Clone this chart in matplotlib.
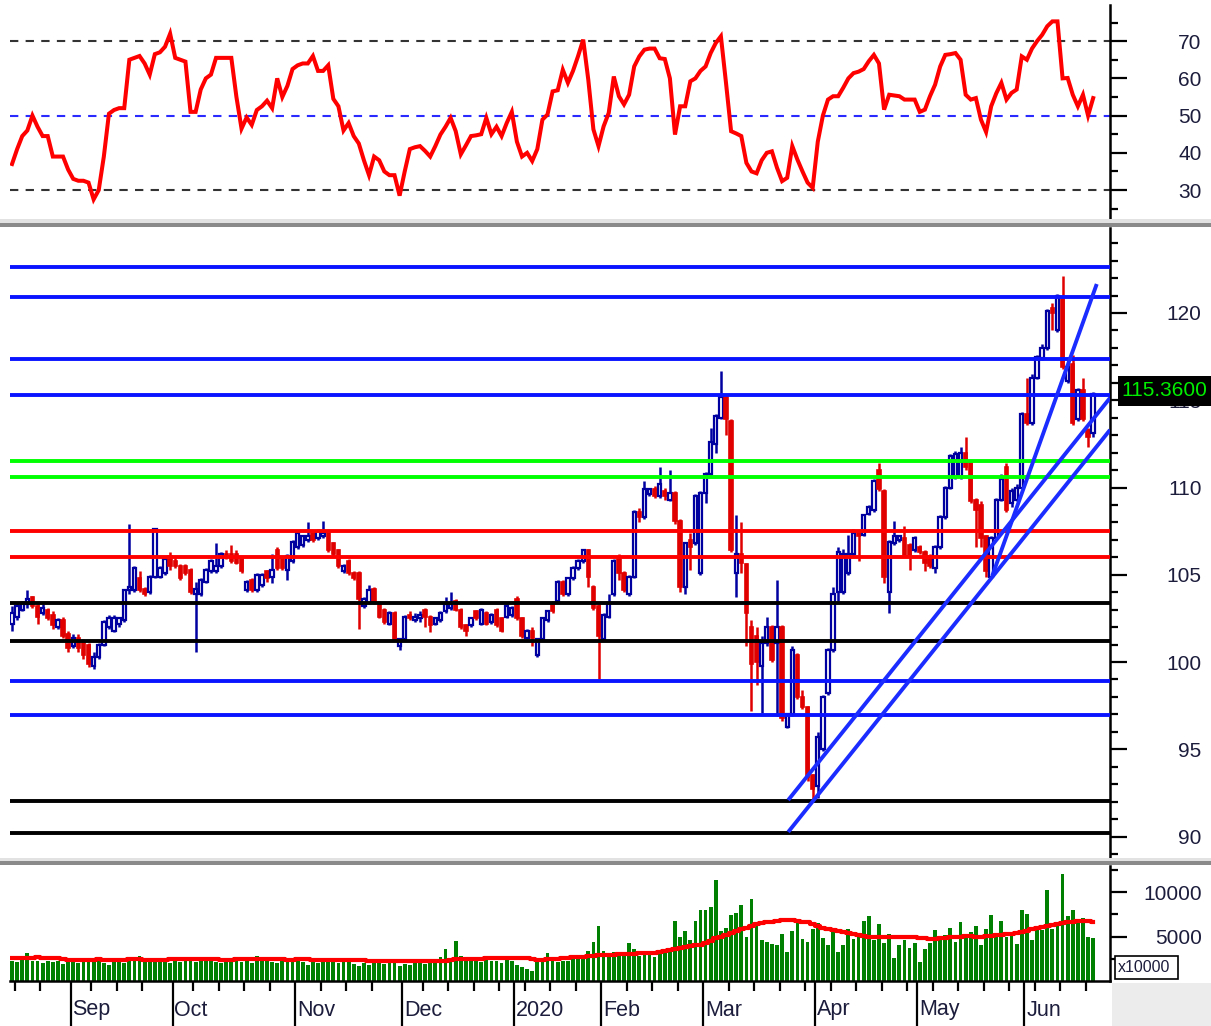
import matplotlib
matplotlib.use("Agg")
import matplotlib.pyplot as plt
import matplotlib.transforms as mtransforms
from matplotlib.patches import Rectangle
import numpy as np

# ---------------- data ----------------
opens = [102.2, 102.6, 103.0, 103.3, 103.7, 103.2, 102.8, 103.0, 102.7, 102.0,
         102.4, 101.6, 100.9, 101.4, 101.2, 101.0, 99.8, 100.3, 101.0, 102.0,
         101.8, 102.2, 102.4, 104.1, 104.1, 104.8, 104.2, 104.0, 104.9, 104.9,
         105.1, 106.1, 105.8, 105.5, 105.5, 105.3, 103.9, 103.9, 104.6, 105.2,
         105.2, 105.5, 106.2, 106.2, 106.2, 105.9, 104.1, 104.7, 104.1, 104.4,
         105.2, 104.9, 106.4, 105.9, 105.3, 105.8, 106.6, 106.7, 107.0, 107.4,
         107.1, 107.2, 107.5, 106.8, 106.4, 105.2, 105.8, 105.1, 105.1, 103.2,
         103.4, 104.2, 103.4, 103.0, 102.2, 102.8, 100.9, 101.3, 102.7, 102.4,
         102.5, 103.0, 102.6, 102.2, 102.4, 102.9, 103.1, 103.5, 103.0, 102.1,
         102.1, 102.9, 102.2, 102.8, 102.3, 103.0, 102.5, 102.6, 102.7, 103.6,
         102.5, 101.4, 101.8, 100.4, 101.3, 102.4, 103.3, 103.5, 104.6, 103.9,
         104.8, 105.4, 105.8, 106.4, 104.3, 103.2, 101.3, 102.6, 103.9, 105.9,
         105.1, 103.9, 104.9, 108.6, 108.3, 109.6, 109.9, 109.5, 109.8, 109.3,
         109.7, 108.1, 104.3, 107.0, 106.8, 105.1, 109.7, 110.8, 112.5, 114.0,
         115.2, 113.8, 105.1, 106.2, 105.6, 102.0, 101.5, 99.8, 101.1, 102.0,
         101.1, 102.0, 96.3, 97.0, 100.4, 98.0, 97.4, 93.5, 92.9, 95.0,
         98.2, 100.7, 104.0, 104.0, 105.1, 106.2, 107.4, 107.3, 108.5, 108.7,
         111.0, 109.8, 104.0, 106.8, 107.0, 107.1, 106.7, 106.4, 106.6, 106.3,
         106.1, 105.4, 106.6, 108.3, 110.0, 110.6, 110.6, 112.0, 111.4, 109.3,
         109.0, 107.2, 104.9, 107.1, 109.3, 111.2, 109.1, 109.3, 110.0, 114.2,
         113.7, 116.3, 117.4, 118.0, 120.3, 119.0, 120.8, 116.1, 117.1, 113.9,
         115.6, 113.3, 113.1]
closes = [102.8, 103.2, 103.4, 103.6, 103.2, 102.6, 103.1, 102.5, 102.1, 102.4,
          101.5, 100.8, 101.4, 100.8, 100.4, 99.9, 100.3, 101.0, 102.3, 102.5,
          102.5, 102.5, 104.1, 104.3, 105.4, 104.1, 103.9, 104.9, 107.6, 105.4,
          105.9, 105.5, 105.5, 104.8, 105.1, 104.0, 104.2, 104.7, 105.3, 105.8,
          105.5, 106.2, 106.0, 105.8, 105.7, 105.2, 104.6, 104.1, 105.0, 105.0,
          104.8, 105.3, 105.4, 105.4, 106.1, 106.9, 107.4, 107.2, 107.2, 107.0,
          107.5, 107.4, 106.4, 106.2, 105.5, 105.5, 105.1, 104.8, 103.6, 103.6,
          104.1, 103.4, 102.6, 102.3, 102.8, 101.3, 101.3, 102.6, 102.5, 102.6,
          102.7, 102.6, 102.1, 102.5, 102.8, 103.3, 103.3, 103.0, 102.0, 101.8,
          102.5, 102.5, 103.0, 102.2, 102.7, 102.1, 101.8, 103.2, 103.1, 102.5,
          101.5, 101.8, 101.4, 101.3, 102.5, 102.9, 102.9, 104.6, 103.9, 104.8,
          105.4, 105.8, 106.4, 104.9, 103.1, 101.5, 102.7, 103.4, 105.8, 105.1,
          104.1, 104.9, 108.6, 108.3, 109.9, 109.9, 109.5, 110.2, 109.5, 109.7,
          108.1, 104.3, 106.8, 106.6, 109.5, 109.7, 110.8, 112.6, 114.1, 115.2,
          113.9, 106.4, 106.2, 105.7, 102.8, 99.9, 100.0, 101.1, 102.0, 100.1,
          102.0, 96.8, 97.0, 100.7, 98.0, 97.4, 93.4, 92.7, 95.7, 98.0,
          100.7, 103.9, 106.3, 106.2, 106.2, 107.4, 107.2, 108.4, 108.9, 110.4,
          109.9, 104.9, 106.9, 107.2, 107.2, 106.1, 106.1, 107.1, 106.3, 105.7,
          105.5, 106.6, 108.3, 110.0, 111.8, 111.9, 112.0, 111.2, 109.2, 108.7,
          107.1, 105.2, 107.1, 109.3, 110.5, 108.7, 109.8, 110.0, 114.2, 113.7,
          116.3, 117.5, 118.0, 120.1, 120.0, 121.0, 116.9, 116.9, 113.7, 115.6,
          113.9, 112.9, 115.36]
highs = [103.2, 103.4, 103.5, 104.1, 103.8, 103.3, 103.3, 103.1, 102.9, 102.5,
         102.6, 101.8, 101.6, 101.6, 101.3, 101.1, 100.6, 101.1, 102.4, 102.7,
         102.7, 102.6, 104.2, 107.9, 105.5, 105.2, 104.3, 105.0, 107.7, 105.5,
         106.0, 106.3, 106.0, 105.6, 105.6, 105.4, 104.6, 104.8, 105.4, 105.9,
         106.8, 106.3, 106.4, 106.7, 106.4, 106.0, 104.7, 104.8, 105.1, 105.1,
         105.3, 106.2, 106.6, 106.0, 106.2, 107.0, 107.5, 107.3, 108.0, 107.5,
         107.6, 108.1, 107.6, 106.9, 106.5, 105.6, 105.9, 105.2, 105.2, 103.7,
         104.4, 104.3, 103.5, 103.1, 102.9, 102.9, 101.4, 102.7, 102.9, 102.8,
         102.9, 103.1, 102.7, 102.6, 102.9, 103.7, 104.0, 103.6, 103.1, 102.2,
         102.6, 103.0, 103.1, 102.9, 102.8, 103.1, 102.6, 103.3, 103.2, 103.8,
         102.6, 101.9, 102.0, 101.4, 102.6, 103.0, 103.5, 104.7, 104.7, 104.9,
         105.5, 105.9, 106.5, 106.5, 104.4, 103.3, 102.8, 103.9, 105.9, 106.2,
         105.2, 105.0, 108.7, 108.8, 110.4, 110.0, 110.1, 111.2, 110.0, 111.0,
         109.8, 108.2, 106.9, 107.4, 109.6, 109.8, 110.9, 113.4, 114.2, 116.7,
         115.3, 113.9, 108.4, 108.0, 105.7, 102.4, 102.0, 101.5, 102.6, 102.1,
         104.7, 102.1, 97.1, 100.9, 100.5, 98.4, 97.5, 93.6, 96.0, 98.1,
         100.8, 104.3, 106.6, 106.5, 107.3, 107.6, 107.5, 108.5, 109.0, 110.5,
         111.4, 109.9, 107.0, 108.1, 107.3, 107.8, 106.8, 107.2, 106.7, 106.4,
         106.2, 106.7, 108.4, 110.1, 111.9, 112.1, 112.3, 112.9, 111.5, 109.4,
         109.2, 107.3, 107.2, 109.4, 110.8, 111.4, 110.0, 110.2, 114.3, 116.3,
         116.5, 117.6, 118.2, 120.2, 120.6, 121.1, 122.1, 117.5, 117.6, 115.7,
         116.3, 113.4, 115.5]
lows = [101.8, 102.4, 102.9, 103.1, 103.1, 102.2, 102.7, 102.4, 101.9, 101.9,
        101.4, 100.6, 100.8, 100.6, 100.2, 99.7, 99.6, 100.2, 100.9, 101.9,
        101.7, 102.0, 102.3, 103.9, 104.0, 104.0, 103.8, 103.9, 104.8, 104.8,
        105.0, 105.3, 105.4, 104.7, 105.0, 103.9, 100.6, 103.8, 104.5, 105.1,
        105.1, 105.4, 105.9, 105.7, 105.6, 105.1, 104.0, 104.0, 104.0, 104.3,
        104.6, 104.5, 105.3, 105.3, 104.7, 105.7, 106.5, 106.6, 106.9, 106.9,
        107.0, 107.1, 106.3, 106.1, 105.4, 105.1, 105.0, 104.7, 101.9, 103.1,
        103.3, 103.3, 102.5, 102.2, 102.1, 101.2, 100.7, 101.2, 102.4, 102.3,
        102.3, 102.0, 101.7, 102.1, 102.3, 102.8, 103.0, 102.9, 101.9, 101.5,
        102.0, 102.4, 102.1, 102.1, 102.2, 102.0, 101.7, 102.5, 102.6, 102.4,
        101.4, 101.3, 100.9, 100.3, 101.2, 102.3, 102.8, 103.4, 103.8, 103.8,
        104.7, 105.3, 105.7, 104.3, 103.0, 99.0, 101.2, 102.5, 103.8, 104.7,
        104.0, 103.8, 104.8, 108.0, 108.2, 109.5, 109.4, 109.4, 109.3, 109.2,
        107.9, 104.0, 103.9, 105.3, 106.7, 105.0, 109.1, 110.6, 112.0, 113.9,
        113.0, 106.3, 103.7, 105.1, 100.9, 97.2, 98.7, 97.1, 100.9, 100.0,
        96.9, 96.6, 96.2, 96.9, 97.9, 97.3, 93.2, 92.1, 92.2, 94.9,
        98.1, 100.6, 103.5, 103.9, 105.0, 106.1, 105.8, 107.2, 108.4, 108.6,
        109.8, 104.5, 102.8, 106.7, 106.9, 106.0, 105.3, 106.3, 106.2, 105.2,
        105.4, 105.1, 106.5, 108.2, 109.9, 110.5, 110.5, 111.0, 109.1, 106.6,
        106.6, 104.9, 104.8, 107.0, 109.2, 108.6, 108.9, 109.2, 109.9, 113.6,
        113.6, 116.2, 117.3, 117.9, 119.0, 118.9, 116.8, 116.0, 113.6, 113.8,
        113.8, 112.3, 112.9]

volume = [2300, 2100, 2400, 3100, 2200, 2200, 2000, 2300, 2100, 2200, 1900,
          2300, 2400, 2000, 2200, 2100, 2600, 2300, 2000, 1800, 2100,
          2600, 2000, 2300, 2200, 2800, 2100, 2200, 2300, 2100, 2600,
          2000, 2200, 2100, 2300, 2500, 2100, 2700, 2200, 2300, 2100,
          2000, 2400, 2200, 2600, 2100, 2300, 2000, 2800, 2200, 2300,
          2100, 2000, 2300, 2400, 2200, 2600, 2100, 1800, 2300, 2000,
          2300, 2100, 2400, 2000, 2100, 2300, 1900, 1700, 2000, 1800,
          2200, 2100, 1900, 2000, 2100, 1700, 1900, 1800, 2100, 2200,
          1900, 2000, 2200, 2700, 3600, 2500, 4500, 2800, 2200, 2300,
          2700, 2100, 2800, 2200, 2300, 2000, 2400, 2200, 1800, 1600,
          1400, 1100, 2200, 2400, 3200, 2400, 2100, 2200, 2300, 2600,
          2500, 2800, 3400, 4400, 6200,
          3400, 3100, 3300, 2900, 2800, 4300, 3600, 2800, 3000, 3200,
          2700, 3300, 3500, 3300, 6800, 4900, 5600, 4600, 6800, 8000,
          8000, 8300, 11400, 5600, 6000, 7400, 7700, 8600, 5000, 9200, 6400,
          4600, 4400, 4200, 4100, 5300, 3300, 5600, 6500, 4700, 4400, 5800,
          6500, 4800, 4100, 5700, 3300, 4000, 5900, 4700, 5200, 6800,
          7300, 4600, 6400, 4300, 5300, 2600, 4000, 4600, 3700, 4300,
          2100, 3600, 4300, 5700, 5000, 5200, 6000, 4400, 6700, 4800,
          5500, 6200, 4100, 5800, 7400, 5000, 6800, 4900, 5400, 4200,
          8000, 7600, 4600, 6100, 5700, 10300, 5800, 6600, 12000, 7300,
          8000, 6800, 7100, 5000, 4800]

volume_ma = [2600, 2600, 2600, 2600, 2600, 2650, 2600, 2600, 2600, 2550, 2500,
             2400, 2400, 2400, 2400, 2400, 2400, 2450, 2400, 2400, 2400,
             2400, 2400, 2450, 2450, 2450, 2400, 2400, 2400, 2400, 2400,
             2450, 2450, 2450, 2450, 2450, 2450, 2500, 2500, 2500, 2450,
             2400, 2400, 2400, 2450, 2450, 2450, 2500, 2500, 2500, 2500,
             2500, 2500, 2500, 2400, 2400,
             2500, 2500, 2500, 2400, 2400, 2400, 2400, 2400, 2400, 2400,
             2400, 2400, 2400, 2400, 2300, 2300, 2200, 2200, 2200, 2200,
             2200, 2200, 2200, 2200, 2200, 2200, 2250, 2300, 2300, 2300,
             2400, 2450, 2450, 2450, 2500, 2500, 2500, 2550, 2550, 2550,
             2550, 2550, 2550,
             2550, 2550, 2550, 2450, 2400, 2400, 2450, 2500, 2500, 2550,
             2600, 2650, 2700, 2750, 2800, 2850, 2900,
             2900, 2900, 2950, 3000, 3000, 3000, 3050, 3100, 3100, 3150,
             3200, 3300, 3400, 3500, 3600, 3700, 3800, 3900, 4000, 4100,
             4300, 4500, 4800, 5000, 5200, 5400, 5600, 5800, 6000, 6200, 6400,
             6500, 6600, 6700, 6800, 6900, 6900, 6900, 6800, 6700, 6600, 6400,
             6200, 6000, 5800, 5700, 5600, 5500, 5400, 5300, 5200, 5100,
             5000, 5000, 4950, 4950, 4900, 4900, 4900, 4900, 4900, 4900,
             4800, 4800, 4750, 4750, 4800, 4850, 4900, 5000, 5000, 5100,
             5100, 5000, 5000, 5100, 5100, 5200, 5200, 5300, 5300, 5400,
             5500, 5600, 5800, 6000, 6100, 6200, 6300, 6400, 6500, 6600,
             6700, 6800, 6800, 6800, 6700]

rsi = [37, 41, 44.5, 46, 50, 47, 44.5, 44.5, 39, 39,
       39, 35.5, 33, 32.5, 32.5, 32, 27.5, 30, 39, 50.5,
       51.5, 52, 52, 65, 65.5, 66, 64, 61, 66.5, 67,
       68.5, 72, 65.5, 65, 64.5, 51, 51, 57, 60, 61,
       65.5, 65.5, 65.5, 65.5, 55, 46.5, 49.5, 47.5, 51.5, 52.5,
       54, 52, 60, 55, 58, 62.5, 63.5, 64, 64, 66,
       62, 62, 63.5, 54.5, 52.5, 46, 48, 44.5, 42.5, 38,
       34, 39, 38, 35, 34, 34, 28.5, 35, 41, 41.5,
       41.8, 40.5, 39, 41.8, 44.9, 47, 49.4, 45.8, 39.6, 42,
       44.5, 44.7, 45, 49.4, 45, 47, 44.5, 48, 51, 43,
       39, 40, 37.8, 41, 48.9, 50.3, 56.5, 56.8, 62.3, 58.8,
       62, 66, 70.4, 59.6, 46.3, 41.8, 47.1, 50.7, 60.5, 55.2,
       53, 55.6, 63.2, 65.9, 67.7, 68, 68, 65.4, 65.2, 60,
       44.9, 52.5, 52.5, 59.2, 60, 62, 63.2, 66.8, 69.5, 71.3,
       58.8, 45.8, 45.2, 44.5, 37.3, 35, 34.5, 38, 40, 40.4,
       36, 32.4, 33.3, 41.8, 38.2, 35, 32, 30.6, 43, 50,
       54.3, 55.2, 55.2, 57.5, 60, 61.4, 61.8, 62.5, 64.6, 66.3,
       64, 51.6, 55.6, 55.4, 55.2, 54.3, 54.3, 54.3, 51, 51.6,
       55.2, 58.3, 63.2, 66.3, 66.5, 66.8, 65, 55.6, 54.3, 54.7,
       48.9, 45.6, 52.5, 56, 58.8, 54.3, 56.1, 57, 65.9, 65,
       68, 70, 71.7, 74, 75.3, 75.3, 60, 60.1, 55.6, 52.5,
       55.6, 50, 54.7]

month_labels = ["Sep", "Oct", "Nov", "Dec", "2020", "Feb", "Mar", "Apr", "May", "Jun"]
month_start_bar = [12, 32, 56, 77, 99, 116, 136, 158, 178, 199]

level_prices = [122.64, 120.92, 117.36, 115.30, 111.52, 110.60, 107.51, 106.02,
                103.38, 101.20, 98.91, 96.96, 92.03, 90.20]
level_colors = ["#0a14ff", "#0a14ff", "#0a14ff", "#0a14ff", "#00ff00", "#00ff00",
                "#ff0000", "#ff0000", "#000000", "#000000", "#0a14ff", "#0a14ff",
                "#000000", "#000000"]

# trend lines as (bar, price) pairs
trend_lines = [((152.2, 92.09), (215.3, 115.13)),
               ((152.2, 90.26), (215.3, 113.30)),
               ((192.2, 104.93), (212.7, 121.66))]

last_price_label = "115.3600"

# ---------------- figure ----------------
plt.rcParams['font.family'] = ['Liberation Sans', 'DejaVu Sans']
W, H = 1211, 1026
fig = plt.figure(figsize=(W / 100, H / 100), dpi=100)
fig.patch.set_facecolor("white")


def fx(px):
    return px / W


def fy(py):
    return 1 - py / H


XL, XR = 10, 1110
ax_rsi = fig.add_axes([fx(XL), fy(218), (XR - XL) / W, (218 - 5) / H])
ax_price = fig.add_axes([fx(XL), fy(858), (XR - XL) / W, (858 - 228) / H])
ax_vol = fig.add_axes([fx(XL), fy(981), (XR - XL) / W, (981 - 866) / H])

n = len(closes)
idx = np.arange(n)
XMIN, XMAX = -0.4, 215.3
label_color = "#1c1c3c"

for ax in (ax_rsi, ax_price, ax_vol):
    ax.set_xlim(XMIN, XMAX)
    ax.set_facecolor("white")
    for s in ("left", "top", "bottom"):
        ax.spines[s].set_visible(False)
    ax.spines["right"].set_linewidth(1.8)
    ax.spines["right"].set_color("black")
    ax.yaxis.tick_right()
    ax.tick_params(axis="y", which="major", length=12, width=1.6, pad=54,
                   labelsize=15, labelcolor=label_color, direction="out")
    ax.tick_params(axis="y", which="minor", length=6, width=1.6, direction="out")

# ---- RSI ----
ax_rsi.set_ylim(22.5, 79.7)
ax_rsi.axhline(70, color="#333333", lw=1.5, ls=(0, (4, 3.5)))
ax_rsi.axhline(30, color="#333333", lw=1.5, ls=(0, (4, 3.5)))
ax_rsi.axhline(50, color="#2a2aff", lw=1.5, ls=(0, (4, 3.5)))
ax_rsi.plot(idx, rsi, color="#ff0000", lw=2.9, solid_joinstyle="miter")
ax_rsi.set_yticks([30, 40, 50, 60, 70])
ax_rsi.set_yticks([25, 35, 45, 55, 65, 75], minor=True)
ax_rsi.set_xticks([])

# ---- Price ----
ax_price.set_ylim(88.77, 124.87)
up_col = "#0000a0"
dn_col = "#e00000"
for i in range(n):
    o, c, h, l = opens[i], closes[i], highs[i], lows[i]
    col = up_col if c >= o else dn_col
    ax_price.vlines(i, l, h, color=col, lw=1.8, zorder=2)
    bot = min(o, c)
    hgt = max(abs(c - o), 0.1)
    if c >= o:
        ax_price.bar(i, hgt, bottom=bot, width=0.66, facecolor="white",
                     edgecolor=col, linewidth=1.6, zorder=2.5)
    else:
        ax_price.bar(i, hgt, bottom=bot, width=0.66, facecolor=col,
                     edgecolor=col, linewidth=1.2, zorder=2.5)

for lvl, colr in zip(level_prices, level_colors):
    ax_price.axhline(lvl, color=colr, lw=2.8, zorder=3)

for (xa, ya), (xb, yb) in trend_lines:
    ax_price.plot([xa, xb], [ya, yb], color="#1a2cff", lw=2.8, zorder=4,
                  solid_capstyle="butt")

ax_price.set_yticks([90, 95, 100, 105, 110, 115, 120])
ax_price.set_yticks(np.arange(89, 125, 1), minor=True)
ax_price.set_xticks([])

# ---- Volume ----
ax_vol.set_ylim(0, 12950)
ax_vol.bar(idx, volume, width=0.74, color="#008000", zorder=2)
ax_vol.plot(idx, volume_ma, color="#ff0000", lw=3, drawstyle="steps-mid", zorder=3)
ax_vol.set_yticks([5000, 10000])
ax_vol.set_yticks([2500, 7500, 12500], minor=True)
ax_vol.spines["bottom"].set_visible(True)
ax_vol.spines["bottom"].set_linewidth(1.8)
month_pos = [b - 0.5 for b in month_start_bar]
ax_vol.set_xticks(month_pos)
week_pos = [p for p in np.arange(0.5, n, 5)
            if min(abs(p - m) for m in month_pos) > 1.6]
ax_vol.set_xticks(week_pos, minor=True)
ax_vol.tick_params(axis="x", which="major", length=33, width=1.6,
                   direction="out", labelbottom=False)
ax_vol.tick_params(axis="x", which="minor", length=7, width=1.6,
                   direction="out")

for lab in (ax_rsi.get_yticklabels() + ax_price.get_yticklabels()
            + ax_vol.get_yticklabels()):
    lab.set_horizontalalignment("right")

trans = mtransforms.blended_transform_factory(ax_vol.transData, fig.transFigure)
for pos, lab in zip(month_pos, month_labels):
    ax_vol.text(pos + 0.35, fy(1010), lab, transform=trans, ha="left",
                va="center", fontsize=15.5, color=label_color, clip_on=False)

# ---- decorations (separators, boxes) ----
fig.patches.append(Rectangle((0, fy(223)), 1, 4 / H, transform=fig.transFigure,
                             facecolor="#e2e2e2", edgecolor="none", zorder=5))
fig.patches.append(Rectangle((0, fy(227)), 1, 4 / H, transform=fig.transFigure,
                             facecolor="#8a8a8a", edgecolor="none", zorder=5))
fig.patches.append(Rectangle((0, fy(861)), 1, 3 / H, transform=fig.transFigure,
                             facecolor="#e2e2e2", edgecolor="none", zorder=5))
fig.patches.append(Rectangle((0, fy(865)), 1, 4 / H, transform=fig.transFigure,
                             facecolor="#8a8a8a", edgecolor="none", zorder=5))
# bottom right gray area
fig.patches.append(Rectangle((fx(1112), 0), 1 - fx(1112), (1026 - 983) / H,
                             transform=fig.transFigure, facecolor="#ececec",
                             edgecolor="none", zorder=1))
# x10000 box
fig.patches.append(Rectangle((fx(1115), fy(979)), 63 / W, 23 / H,
                             transform=fig.transFigure, facecolor="white",
                             edgecolor="black", lw=1.2, zorder=6))
fig.text(fx(1118), fy(967.5), "x10000", fontsize=11.5, color=label_color,
         ha="left", va="center", zorder=7)
# last price label
fig.patches.append(Rectangle((fx(1118), fy(406)), (1211 - 1118) / W, 30 / H,
                             transform=fig.transFigure, facecolor="black",
                             edgecolor="none", zorder=6))
fig.text(fx(1121), fy(391), last_price_label, fontsize=15, color="#00ee00",
         ha="left", va="center", zorder=7)

fig.savefig("out.png", dpi=100, facecolor="white")
